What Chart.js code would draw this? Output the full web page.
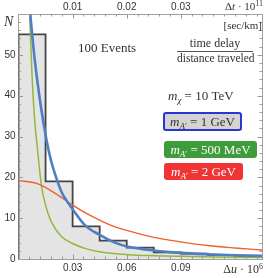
<!DOCTYPE html>
<html>
<head>
<meta charset="UTF-8">
<title>Time delay</title>
<script src="https://cdn.jsdelivr.net/npm/chart.js"></script>
<style>
  body { margin: 0; background: #fff; }
  #wrap { position: relative; width: 266px; height: 278px; overflow: hidden; }
  #wrap canvas { position: absolute; left: 0; top: 0; }
  .lbl { position: absolute; font-family: "Liberation Serif", "DejaVu Serif", serif; color: #333; white-space: nowrap; line-height: 1; }
  .box { position: absolute; font-family: "Liberation Serif", "DejaVu Serif", serif; font-size: 13px; line-height: 1; white-space: nowrap;
         display: flex; align-items: center; justify-content: center; box-sizing: border-box; border-radius: 3px; }
  .sub { font-size: 9px; position: relative; top: 3px; }
  .sup { font-size: 8px; position: relative; top: -4px; }
</style>
</head>
<body>
<div id="wrap">
  <canvas id="delayChart" width="266" height="278"></canvas>

  <div class="lbl" style="left:4px; top:15px; font-size:14px;"><i>N</i></div>
  <div class="lbl" style="right:3px; top:1px; font-size:11px;">&Delta;<i>t</i> &middot; 10<span class="sup">11</span></div>
  <div class="lbl" style="right:4px; top:20px; font-size:11px;">[sec/km]</div>
  <div class="lbl" style="left:78px; top:41px; font-size:13px;">100 Events</div>
  <div class="lbl" style="left:177px; top:37px; width:76px; text-align:center; font-size:12px;">time delay</div>
  <div style="position:absolute; left:177px; top:51px; width:76px; height:1px; background:#555;"></div>
  <div class="lbl" style="left:177px; top:53px; width:76px; text-align:center; font-size:11.5px;">distance traveled</div>
  <div class="lbl" style="left:168px; top:89px; font-size:13px;"><i>m</i><span class="sub"><i>&chi;</i></span> = 10 TeV</div>

  <div class="box" style="left:163px; top:112px; width:79px; height:19px; border:2px solid #2b35d6; background:#d3d3d3; color:#333;">
    <span><i>m</i><span class="sub"><i>A</i>&prime;</span> = 1 GeV</span></div>
  <div class="box" style="left:164px; top:141px; width:93px; height:17px; background:#3e9c3a; color:#fff;">
    <span><i>m</i><span class="sub"><i>A</i>&prime;</span> = 500 MeV</span></div>
  <div class="box" style="left:164px; top:163px; width:79px; height:17px; background:#f03434; color:#fff;">
    <span><i>m</i><span class="sub"><i>A</i>&prime;</span> = 2 GeV</span></div>

  <div class="lbl" style="right:3px; top:263px; font-size:12px;">&Delta;<i>u</i> &middot; 10<span class="sup">6</span></div>
</div>

<script>
  // histogram of the 100 events
  const binEdges = [0, 0.015, 0.03, 0.045, 0.06, 0.075, 0.09, 0.105, 0.12, 0.135];
  const eventCounts = [55, 19, 8, 4.5, 2.8, 1.6, 1.3, 1.0, 0.8];

  // m_A' = 1 GeV (blue)
  const uBlue = [0.0058, 0.0065, 0.009, 0.0127, 0.0155, 0.0179, 0.021, 0.024, 0.0271, 0.030, 0.0368, 0.045, 0.0534, 0.0608, 0.075, 0.09, 0.105, 0.12, 0.135];
  const nBlue = [63, 60, 48.8, 36.5, 29.2, 24.3, 19.8, 16.3, 14, 12.2, 8.3, 5.9, 4.0, 3.0, 2.1, 1.5, 1.15, 0.9, 0.75];

  // m_A' = 500 MeV (green)
  const uGreen = [0.0057, 0.0062, 0.0075, 0.0088, 0.0105, 0.0127, 0.0155, 0.0182, 0.0238, 0.030, 0.0368, 0.0457, 0.0607, 0.075, 0.09, 0.11, 0.135];
  const nGreen = [66, 60, 45, 35, 27, 18, 12.4, 9.1, 5.5, 3.8, 2.6, 1.7, 1.05, 0.8, 0.65, 0.5, 0.4];

  // m_A' = 2 GeV (orange)
  const uOrange = [0, 0.01, 0.02, 0.03, 0.04, 0.05, 0.06, 0.075, 0.09, 0.105, 0.12, 0.135];
  const nOrange = [19.2, 18.5, 16.2, 13.2, 10.6, 8.5, 7.0, 5.3, 4.2, 3.3, 2.7, 2.2];

  // tick labels
  const uTickLabels = [0.03, 0.06, 0.09];
  const tTickLabels = [0.01, 0.02, 0.03];
  const nTickLabels = [0, 10, 20, 30, 40, 50];

  const toPoints = (xs, ys) => xs.map((x, i) => ({ x: x, y: ys[i] }));
  const histPoints = [{ x: binEdges[0], y: 0 }].concat(eventCounts.map((c, i) => ({ x: binEdges[i], y: c })));
  histPoints.push({ x: binEdges[binEdges.length - 1], y: eventCounts[eventCounts.length - 1] });

  const near = (list, v) => list.some(t => Math.abs(t - v) < 1e-9);
  const stepTicks = (min, max, step) => {
    const out = [];
    for (let k = 0; min + k * step <= max + 1e-9; k++) out.push({ value: +(min + k * step).toFixed(6) });
    return out;
  };

  const tickFont = { family: '"Liberation Sans", Arial, sans-serif', size: 10 };
  const axisColor = '#a0a0a0';

  const inwardTicks = {
    id: 'inwardTicks',
    afterDatasetsDraw(chart) {
      const ctx = chart.ctx;
      const a = chart.chartArea;
      ctx.save();
      ctx.strokeStyle = '#999';
      ctx.lineWidth = 1;
      const sets = [['x', uTickLabels], ['x2', tTickLabels], ['y', nTickLabels], ['y2', nTickLabels]];
      sets.forEach(([id, majors]) => {
        const s = chart.scales[id];
        s.ticks.forEach(t => {
          if (t.value <= s.min || t.value >= s.max) return;
          const len = near(majors, t.value) ? 4.5 : 2.5;
          const p = Math.round(s.getPixelForValue(t.value)) + 0.5;
          ctx.beginPath();
          if (id === 'x') { ctx.moveTo(p, a.bottom); ctx.lineTo(p, a.bottom - len); }
          if (id === 'x2') { ctx.moveTo(p, a.top); ctx.lineTo(p, a.top + len); }
          if (id === 'y') { ctx.moveTo(a.left, p); ctx.lineTo(a.left + len, p); }
          if (id === 'y2') { ctx.moveTo(a.right, p); ctx.lineTo(a.right - len, p); }
          ctx.stroke();
        });
      });
      ctx.restore();
    }
  };

  const ctx = document.getElementById('delayChart').getContext('2d');
  new Chart(ctx, {
    type: 'line',
    data: {
      datasets: [
        {
          label: '1 GeV',
          data: toPoints(uBlue, nBlue),
          borderColor: '#4f7fc2',
          borderWidth: 2.6,
          pointRadius: 0,
          cubicInterpolationMode: 'monotone',
          fill: false,
          order: 1
        },
        {
          label: '2 GeV',
          data: toPoints(uOrange, nOrange),
          borderColor: '#f0602c',
          borderWidth: 1.4,
          pointRadius: 0,
          cubicInterpolationMode: 'monotone',
          fill: false,
          order: 2
        },
        {
          label: '500 MeV',
          data: toPoints(uGreen, nGreen),
          borderColor: '#92b83a',
          borderWidth: 1.5,
          pointRadius: 0,
          cubicInterpolationMode: 'monotone',
          fill: false,
          order: 3
        },
        {
          label: '100 Events',
          data: histPoints,
          stepped: 'before',
          borderColor: '#444',
          borderWidth: 1.8,
          backgroundColor: '#e4e4e4',
          pointRadius: 0,
          fill: 'origin',
          order: 4
        }
      ]
    },
    options: {
      responsive: false,
      devicePixelRatio: 1,
      animation: false,
      layout: { padding: 0 },
      plugins: { legend: { display: false }, tooltip: { enabled: false } },
      scales: {
        x: {
          type: 'linear', position: 'bottom', min: 0, max: 0.135,
          afterBuildTicks: s => { s.ticks = stepTicks(0, 0.135, 0.006); },
          afterFit: s => { s.height = 19; },
          ticks: { autoSkip: false, maxRotation: 0, padding: 3, color: '#333', font: tickFont,
                   callback: v => near(uTickLabels, v) ? v.toFixed(2) : '' },
          grid: { display: true, drawOnChartArea: false, drawTicks: false },
          border: { color: axisColor }
        },
        x2: {
          type: 'linear', position: 'top', min: 0, max: 0.045,
          afterBuildTicks: s => { s.ticks = stepTicks(0, 0.045, 0.002); },
          afterFit: s => { s.height = 14; },
          ticks: { autoSkip: false, maxRotation: 0, padding: 1, color: '#333', font: tickFont,
                   callback: v => near(tTickLabels, v) ? v.toFixed(2) : '' },
          grid: { display: true, drawOnChartArea: false, drawTicks: false },
          border: { color: axisColor }
        },
        y: {
          type: 'linear', position: 'left', min: 0, max: 60,
          afterBuildTicks: s => { s.ticks = stepTicks(0, 60, 2); },
          afterFit: s => { s.width = 18.5; },
          ticks: { autoSkip: false, padding: 3, color: '#333', font: tickFont,
                   callback: v => near(nTickLabels, v) ? String(v) : '' },
          grid: { display: true, drawOnChartArea: false, drawTicks: false },
          border: { color: axisColor }
        },
        y2: {
          type: 'linear', position: 'right', min: 0, max: 60,
          afterBuildTicks: s => { s.ticks = stepTicks(0, 60, 2); },
          afterFit: s => { s.width = 4; },
          ticks: { display: false },
          grid: { display: true, drawOnChartArea: false, drawTicks: false },
          border: { color: axisColor }
        }
      }
    },
    plugins: [inwardTicks]
  });
</script>
</body>
</html>
